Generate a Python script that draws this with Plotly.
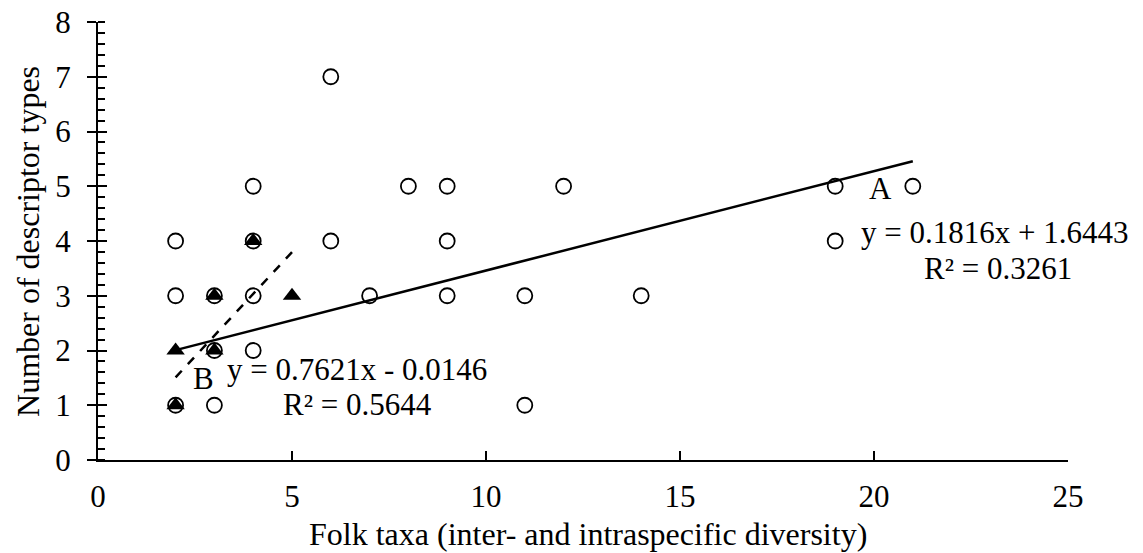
import numpy as np
import plotly.graph_objects as go

# Group A (open circles)
a_taxa = [2, 2, 2, 3, 3, 3, 4, 4, 4, 4, 6, 6, 7, 8, 9, 9, 9, 11, 11, 12, 14, 19, 19, 21]
a_desc = [4, 3, 1, 3, 2, 1, 5, 4, 3, 2, 7, 4, 3, 5, 5, 4, 3, 3, 1, 5, 3, 5, 4, 5]

# Group B (filled triangles)
b_taxa = [2, 2, 3, 3, 4, 5]
b_desc = [1, 2, 2, 3, 4, 3]

# Linear trendlines: slope, intercept, R²
a_fit = (0.1816, 1.6443, 0.3261)
b_fit = (0.7621, -0.0146, 0.5644)

x_ticks = [0, 5, 10, 15, 20, 25]
y_ticks = [0, 1, 2, 3, 4, 5, 6, 7, 8]

FONT = "Liberation Serif, Times New Roman, serif"

fig = go.Figure()

fig.add_trace(go.Scatter(
    x=a_taxa, y=a_desc, mode="markers",
    marker=dict(symbol="circle-open", size=15, color="black", line=dict(width=1.8)),
    showlegend=False, cliponaxis=False,
))
fig.add_trace(go.Scatter(
    x=b_taxa, y=b_desc, mode="markers",
    marker=dict(symbol="triangle-up", size=16, color="black"),
    showlegend=False, cliponaxis=False,
))

# Trendlines across each group's x range
ax = np.array([min(a_taxa), max(a_taxa)], dtype=float)
fig.add_trace(go.Scatter(
    x=ax, y=a_fit[0] * ax + a_fit[1], mode="lines",
    line=dict(color="black", width=2.5), showlegend=False,
))
bx = np.array([min(b_taxa), max(b_taxa)], dtype=float)
fig.add_trace(go.Scatter(
    x=bx, y=b_fit[0] * bx + b_fit[1], mode="lines",
    line=dict(color="black", width=2.5, dash="dash"), showlegend=False,
))

# Invisible trace on a twin axis to draw the inner half of major y ticks
fig.add_trace(go.Scatter(x=[0], y=[0], yaxis="y2", mode="markers",
                         marker=dict(opacity=0), showlegend=False, hoverinfo="skip"))


def sign_fmt(v):
    return f"+ {v:.4f}" if v >= 0 else f"- {abs(v):.4f}"


ann_font = dict(family=FONT, size=31, color="black")
annotations = [
    dict(x=20.18, y=4.95, text="A"),
    dict(x=2.71, y=1.48, text="B"),
    dict(x=23.1, y=4.16,
         text=f"y = {a_fit[0]:.4f}x {sign_fmt(a_fit[1])}"),
    dict(x=23.2, y=3.5, text=f"R² = {a_fit[2]:.4f}"),
    dict(x=6.67, y=1.66,
         text=f"y = {b_fit[0]:.4f}x {sign_fmt(b_fit[1])}"),
    dict(x=6.7, y=1.02, text=f"R² = {b_fit[2]:.4f}"),
]
for a in annotations:
    a.update(xref="x", yref="y", showarrow=False, font=ann_font,
             xanchor="center", yanchor="middle")

# Axis titles
title_font = dict(family=FONT, size=32, color="black")
annotations += [
    dict(xref="paper", yref="paper", x=0.505, y=-0.169, showarrow=False,
         xanchor="center", yanchor="middle",
         text="Folk taxa (inter- and intraspecific diversity)", font=title_font),
    dict(xref="paper", yref="paper", x=-0.0722, y=0.5, showarrow=False,
         xanchor="center", yanchor="middle", textangle=-90,
         text="Number of descriptor types", font=title_font),
]

fig.update_layout(
    width=1143, height=553,
    margin=dict(l=98, r=75, t=22, b=93, autoexpand=False),
    paper_bgcolor="white", plot_bgcolor="white",
    font=dict(family=FONT, size=30, color="black"),
    annotations=annotations,
    xaxis=dict(
        range=[0, 25], tickvals=x_ticks, ticktext=[str(v) for v in x_ticks],
        showgrid=False, zeroline=False, automargin=False,
        showline=True, linecolor="black", linewidth=2,
        ticks="inside", ticklen=9, tickwidth=2, tickcolor="black",
        ticklabelstandoff=8,
        tickfont=dict(family=FONT, size=31),
    ),
    yaxis=dict(
        range=[0, 8], tickvals=y_ticks, ticktext=[str(v) for v in y_ticks],
        showgrid=False, zeroline=False, automargin=False,
        showline=True, linecolor="black", linewidth=2,
        ticks="outside", ticklen=9, tickwidth=2, tickcolor="black",
        ticklabelstandoff=10,
        minor=dict(ticks="inside", ticklen=7, tickwidth=2, tickcolor="black",
                   dtick=0.2, showgrid=False),
        tickfont=dict(family=FONT, size=31),
    ),
    yaxis2=dict(
        range=[0, 8], overlaying="y", side="left", anchor="x", automargin=False,
        tickvals=y_ticks, showticklabels=False, showgrid=False, zeroline=False,
        showline=False, ticks="inside", ticklen=9, tickwidth=2, tickcolor="black",
    ),
)

fig.write_html("out.html")
